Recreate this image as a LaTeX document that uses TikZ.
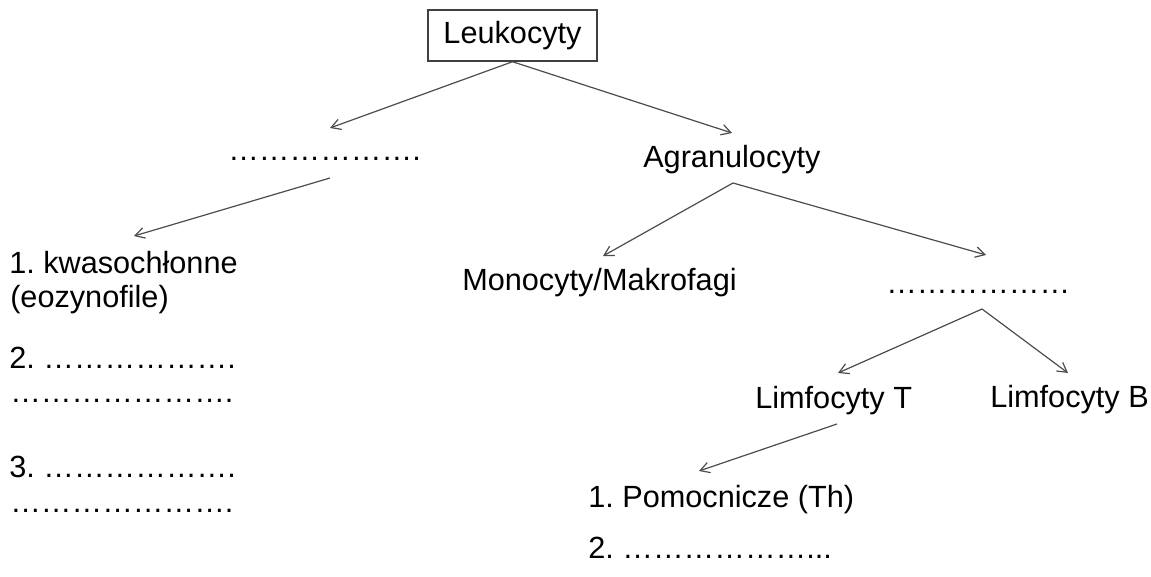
\documentclass[tikz,border=0pt]{standalone}
\usepackage{fontspec}
\setmainfont{Liberation Sans}
\usetikzlibrary{arrows.meta,calc}
\frenchspacing
\newcommand{\ellrep}[1]{\foreach \i in {1,...,#1}{…}}
\begin{document}
\begin{tikzpicture}[x=0.75pt,y=-0.75pt,
  lbl/.style={inner sep=0pt,anchor=base west,font=\fontsize{23}{27}\selectfont},
  boxnode/.style={draw=black!75,line width=1.1pt,inner sep=0pt,minimum width=126.75pt,minimum height=38.25pt,font=\fontsize{23}{27}\selectfont},
  conn/.style={draw=black!70,line width=0.9pt,-{Straight Barb[length=7pt,width=8pt]}}]
\useasboundingbox (0,0) rectangle (1151,577);
% nodes
\node[boxnode] (leuk) at (512.5,35.5) {Leukocyty};
\node[lbl] (dotsL) at (228,161) {\ellrep{6}.};
\node[lbl] (agran) at (643,168) {Agranulocyty};
\node[lbl] (kwas) at (9,273) {1. kwasochłonne};
\node[lbl] (eoz) at (10,307) {(eozynofile)};
\node[lbl] (l2) at (9,368) {2. \ellrep{6}.};
\node[lbl] (l2b) at (10,402) {\ellrep{7}.};
\node[lbl] (l3) at (9,477) {3. \ellrep{6}.};
\node[lbl] (l3b) at (10,512) {\ellrep{7}.};
\node[lbl] (mono) at (462,290) {Monocyty/Makrofagi};
\node[lbl] (dotsR) at (886,293) {\ellrep{6}};
\node[lbl] (limT) at (755,408) {Limfocyty T};
\node[lbl] (limB) at (990,407) {Limfocyty B};
\node[lbl] (pom) at (588,507) {1. Pomocnicze (Th)};
\node[lbl] (p2) at (588,558) {2. \ellrep{6}...};
% connector ends
\coordinate (tGran) at (330,128);
\coordinate (tAgr) at (732,133);
\coordinate (sGran) at (330,178);
\coordinate (tKwas) at (134,236);
\coordinate (sAgr) at (733,183);
\coordinate (tMono) at (603,256);
\coordinate (tLim) at (986,255);
\coordinate (sLim) at (982,309);
\coordinate (tLimT) at (838,373);
\coordinate (tLimB) at (1068,373);
\coordinate (sLimT) at (837,424);
\coordinate (tPom) at (699,471);
% connectors
\draw[conn] (leuk.south) -- (tGran);
\draw[conn] (leuk.south) -- (tAgr);
\draw[conn] (sGran) -- (tKwas);
\draw[conn] (sAgr) -- (tMono);
\draw[conn] (sAgr) -- (tLim);
\draw[conn] (sLim) -- (tLimT);
\draw[conn] (sLim) -- (tLimB);
\draw[conn] (sLimT) -- (tPom);
\end{tikzpicture}
\end{document}
